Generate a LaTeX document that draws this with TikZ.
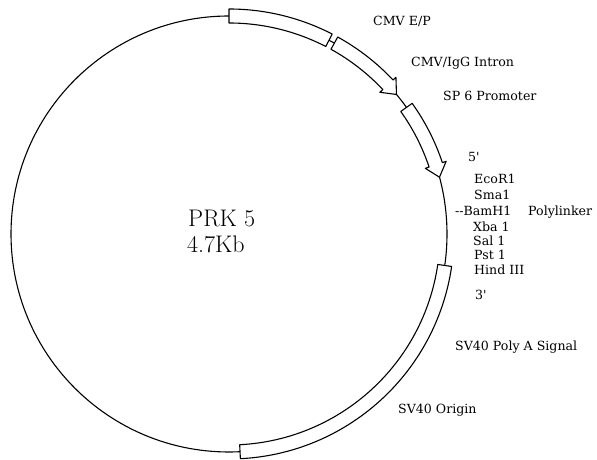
\documentclass[tikz,border=0pt]{standalone}
\usepackage{fontspec}
\usepackage{tikz}
\usetikzlibrary{calc, positioning}
\newfontfamily\labelfont{DejaVu Serif}

\tikzset{
  bandline/.style={draw=black, fill=white, line width=1.1pt, line join=round},
  lbl/.style={anchor=base west, inner sep=0pt, font=\labelfont\fontsize{12.6}{14}\selectfont},
  bigtxt/.style={anchor=base west, inner sep=0pt, font=\fontsize{24}{26}\selectfont}
}
% plain band: start angle, end angle
\newcommand{\plasband}[2]{%
  \draw[bandline] (#1:211) arc (#1:#2:211) -- (#2:225) arc (#2:#1:225) -- cycle;}
% band with arrow head: start angle, head base angle, tip angle
\newcommand{\plasarrow}[3]{%
  \draw[bandline] (#1:211) arc (#1:#2:211) -- (#2:207) -- (#3:218)
    -- (#2:229) -- (#2:225) arc (#2:#1:225) -- cycle;}

\begin{document}
\begin{tikzpicture}[x=1pt, y=1pt]
        \useasboundingbox (0,0) rectangle (597,460);

        % --- Plasmid ring ---
        \begin{scope}[shift={(229,226)}]
          \draw[line width=1.1pt] (0,0) circle (218);
          % CMV E/P
          \plasband{90}{62.7}
          % CMV/IgG intron
          \plasarrow{61.1}{43.2}{39.8}
          % SP6 promoter
          \plasarrow{35.5}{18.5}{15.1}
          % SV40 poly A signal + SV40 origin
          \plasband{-8.3}{-87.1}
        \end{scope}

        % --- Centre label ---
        \node[bigtxt] (name) at (188,233) {PRK 5};
        \node[bigtxt] (size) at (187,207) {4.7Kb};

        % --- Feature labels ---
        \node[lbl] (cmv)    at (373,434) {CMV E/P};
        \node[lbl] (intron) at (411,393) {CMV/IgG Intron};
        \node[lbl] (sp6)    at (443,359) {SP 6 Promoter};

        % polylinker sites
        \node[lbl] (five)  at (468,298) {5'};
        \node[lbl] (ecor)  at (474,276) {EcoR1};
        \node[lbl] (sma)   at (474,260) {Sma1};
        \node[lbl] (bam)   at (455,244) {--BamH1};
        \node[lbl] (poly)  at (528,244) {Polylinker};
        \node[lbl] (xba)   at (473,228) {Xba 1};
        \node[lbl] (sal)   at (473,214) {Sal 1};
        \node[lbl] (pst)   at (474,200) {Pst 1};
        \node[lbl] (hind)  at (474,185) {Hind III};
        \node[lbl] (three) at (475,160) {3'};

        \node[lbl] (polya)  at (455,109) {SV40 Poly A Signal};
        \node[lbl] (origin) at (398,46)  {SV40 Origin};
\end{tikzpicture}
\end{document}
